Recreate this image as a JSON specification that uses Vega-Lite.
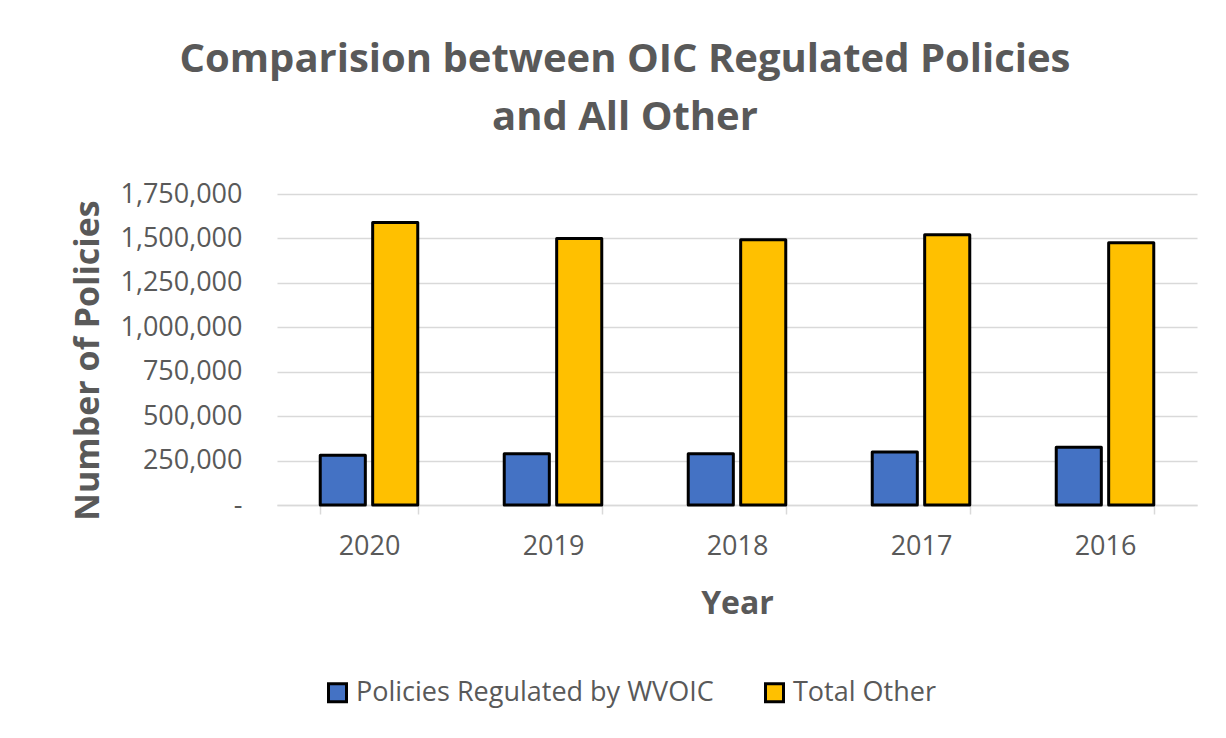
{
  "$schema": "https://vega.github.io/schema/vega-lite/v6.json",
  "autosize": "none",
  "width": 920,
  "height": 311,
  "padding": {"left": 277, "top": 194, "right": 29, "bottom": 233},
  "background": "white",
  "title": {
    "text": ["Comparision between OIC Regulated Policies", "and All Other"],
    "font": "Open Sans",
    "fontSize": 40,
    "fontWeight": "bold",
    "color": "#595959",
    "anchor": "middle",
    "frame": "group",
    "dx": -112,
    "lineHeight": 58,
    "offset": 42
  },
  "data": {
    "values": [
      {"year": "2020", "series": "Policies Regulated by WVOIC", "value": 280000},
      {"year": "2020", "series": "Total Other", "value": 1590000},
      {"year": "2019", "series": "Policies Regulated by WVOIC", "value": 289000},
      {"year": "2019", "series": "Total Other", "value": 1500000},
      {"year": "2018", "series": "Policies Regulated by WVOIC", "value": 289000},
      {"year": "2018", "series": "Total Other", "value": 1493000},
      {"year": "2017", "series": "Policies Regulated by WVOIC", "value": 298000},
      {"year": "2017", "series": "Total Other", "value": 1520000},
      {"year": "2016", "series": "Policies Regulated by WVOIC", "value": 325000},
      {"year": "2016", "series": "Total Other", "value": 1476000}
    ]
  },
  "mark": {"type": "bar", "stroke": "black", "strokeWidth": 3, "strokeJoin": "round"},
  "encoding": {
    "x": {
      "field": "year",
      "type": "nominal",
      "sort": ["2020", "2019", "2018", "2017", "2016"],
      "scale": {"paddingInner": 0.47, "paddingOuter": 0.235},
      "axis": {
        "title": "Year",
        "labelAngle": 0,
        "labelFont": "Open Sans",
        "labelFontSize": 27,
        "labelColor": "#595959",
        "labelPadding": 19,
        "tickBand": "extent",
        "tickSize": 9,
        "tickColor": "#d9d9d9",
        "tickWidth": 1.5,
        "domainColor": "#d9d9d9",
        "domainWidth": 1.5,
        "titleFont": "Open Sans",
        "titleFontSize": 32,
        "titleFontWeight": "bold",
        "titleColor": "#595959",
        "titleBaseline": "alphabetic",
        "titleY": 108
      }
    },
    "xOffset": {
      "field": "series",
      "type": "nominal",
      "scale": {"paddingInner": 0.14}
    },
    "y": {
      "field": "value",
      "type": "quantitative",
      "scale": {"domain": [0, 1750000], "nice": false},
      "axis": {
        "title": "Number of Policies",
        "values": [0, 250000, 500000, 750000, 1000000, 1250000, 1500000, 1750000],
        "labelExpr": "datum.value == 0 ? '-' : format(datum.value, ',')",
        "labelFont": "Open Sans",
        "labelFontSize": 27,
        "labelColor": "#595959",
        "labelPadding": 35,
        "ticks": false,
        "domain": false,
        "gridColor": "#d9d9d9",
        "gridWidth": 1.5,
        "titleFont": "Open Sans",
        "titleFontSize": 34,
        "titleFontWeight": "bold",
        "titleColor": "#595959",
        "titleBaseline": "alphabetic",
        "titleX": -179,
        "titleY": 166
      }
    },
    "color": {
      "field": "series",
      "type": "nominal",
      "scale": {"domain": ["Policies Regulated by WVOIC", "Total Other"], "range": ["#4472C4", "#FFC000"]},
      "legend": {
        "title": null,
        "orient": "none",
        "direction": "horizontal",
        "legendX": 47,
        "legendY": 485,
        "symbolType": "square",
        "symbolSize": 324,
        "symbolStrokeColor": "black",
        "symbolStrokeWidth": 3,
        "symbolOpacity": 1,
        "labelFont": "Open Sans",
        "labelFontSize": 27,
        "labelColor": "#595959",
        "labelLimit": 500,
        "labelOffset": 5,
        "columnPadding": 45
      }
    }
  },
  "config": {
    "view": {"stroke": null}
  }
}
